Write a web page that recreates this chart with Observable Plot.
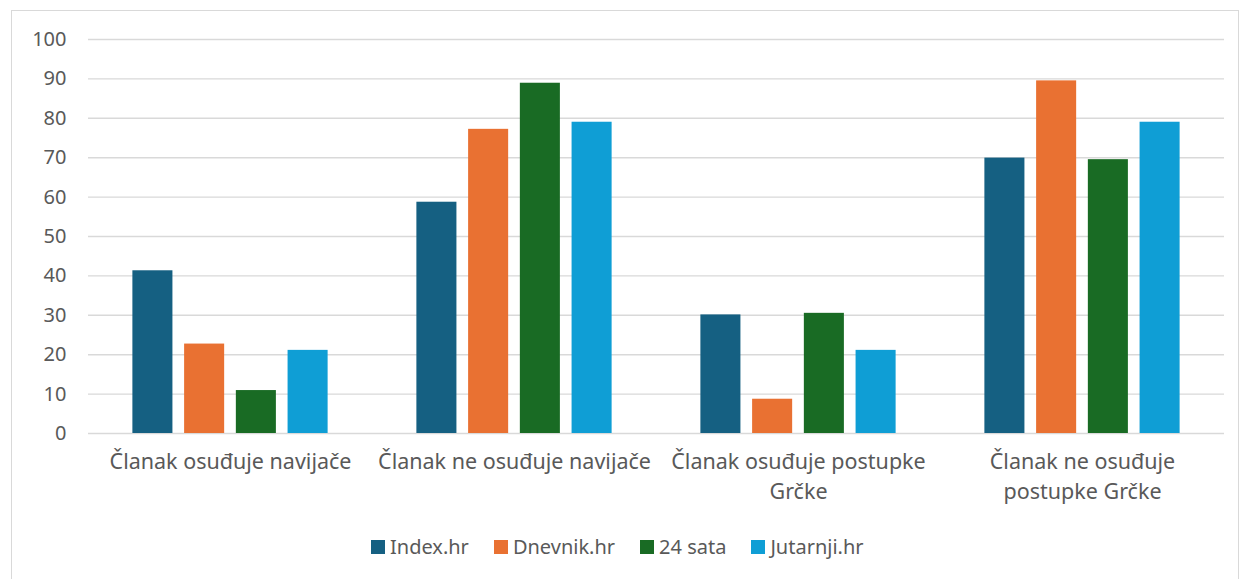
<!DOCTYPE html>
<html>
<head>
<meta charset="utf-8">
<script src="https://cdn.jsdelivr.net/npm/d3@7"></script>
<script src="https://cdn.jsdelivr.net/npm/@observablehq/plot@0.6"></script>
<style>
  html, body { margin: 0; padding: 0; background: #fff; }
  body { width: 1248px; height: 579px; position: relative; overflow: hidden; font-family: "Noto Sans", sans-serif; color: #595959; }
  #frame { position: absolute; left: 11px; top: 10px; width: 1228px; height: 600px; border: 1px solid #d9d9d9; box-sizing: border-box; }
  #chart { position: absolute; left: 0; top: 0; }
  #legend { position: absolute; left: 371px; top: 533px; display: flex; gap: 25px; font-size: 20px; color: #595959; }
  #legend .item { display: flex; align-items: center; gap: 5px; }
  #legend .sw { width: 14px; height: 14px; display: inline-block; }
</style>
</head>
<body>
<div id="frame"></div>
<div id="chart"></div>
<div id="legend"></div>
<script>
const categories = ["Članak osuđuje navijače", "Članak ne osuđuje navijače", "Članak osuđuje postupke Grčke", "Članak ne osuđuje postupke Grčke"];
const categoryLabels = ["Članak osuđuje navijače", "Članak ne osuđuje navijače", "Članak osuđuje postupke\nGrčke", "Članak ne osuđuje\npostupke Grčke"];
const series = ["Index.hr", "Dnevnik.hr", "24 sata", "Jutarnji.hr"];
const indexHr = [41.3, 58.7, 30.1, 69.9];
const dnevnikHr = [22.7, 77.2, 8.7, 89.5];
const sata24 = [10.9, 88.9, 30.5, 69.5];
const jutarnjiHr = [21.1, 79.0, 21.1, 79.0];
const colors = ["#156082", "#E97132", "#196B24", "#0F9ED5"];
const yTicks = [0, 10, 20, 30, 40, 50, 60, 70, 80, 90, 100];

const seriesValues = [indexHr, dnevnikHr, sata24, jutarnjiHr];
const table = [];
categories.forEach((c, i) => {
  series.forEach((s, j) => table.push({category: c, series: s, value: seriesValues[j][i]}));
});

const chart = Plot.plot({
  width: 1248,
  height: 520,
  marginTop: 39,
  marginBottom: 87,
  marginLeft: 88,
  marginRight: 24,
  style: {fontFamily: '"Noto Sans", sans-serif', color: "#595959", background: "transparent"},
  fx: {domain: categories, padding: 0, label: null},
  x: {domain: series, axis: null, paddingInner: 0.226, paddingOuter: 0.858, round: false},
  y: {domain: [0, 100], label: null},
  color: {domain: series, range: colors},
  marks: [
    Plot.gridY(yTicks, {stroke: "#d9d9d9", strokeOpacity: 1, strokeWidth: 1.4}),
    Plot.barY(table, {fx: "category", x: "series", y: "value", fill: "series"}),
    Plot.axisY(yTicks, {tickSize: 0, tickPadding: 22, fontSize: 20, label: null}),
    Plot.axisFx({anchor: "bottom", tickSize: 0, tickPadding: 14, fontSize: 21.5, lineHeight: 1.4, label: null,
      tickFormat: d => categoryLabels[categories.indexOf(d)]})
  ]
});
document.getElementById("chart").appendChild(chart);

const legend = document.getElementById("legend");
series.forEach((s, i) => {
  const it = document.createElement("div");
  it.className = "item";
  const sw = document.createElement("span");
  sw.className = "sw";
  sw.style.background = colors[i];
  const t = document.createElement("span");
  t.textContent = s;
  it.appendChild(sw); it.appendChild(t);
  legend.appendChild(it);
});
</script>
</body>
</html>
